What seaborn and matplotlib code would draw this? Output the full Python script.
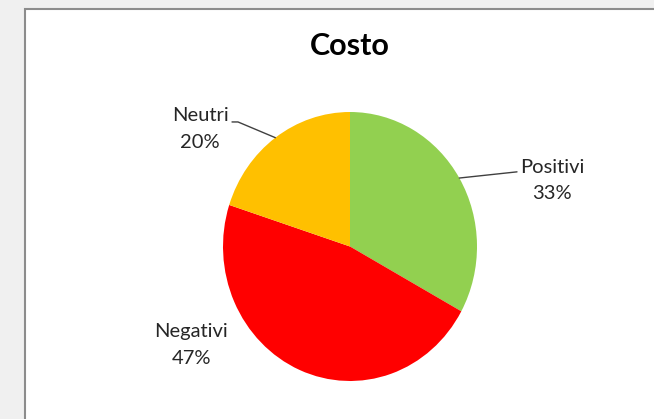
import numpy as np
import matplotlib
matplotlib.use("Agg")
import matplotlib.pyplot as plt
import seaborn as sns
from matplotlib.patches import Rectangle

# data
labels = ["Positivi", "Negativi", "Neutri"]
shares = [33, 47, 20]
colors = ["#92D050", "#FF0000", "#FFC000"]
title = "Costo"

sns.set_theme(style="white")
plt.rcParams['font.family'] = ['Lato', 'DejaVu Sans']

W, H = 654, 419
fig = plt.figure(figsize=(W / 100, H / 100), dpi=100)
fig.patch.set_facecolor("#F0F0F0")

# white chart area with grey frame (runs off the right / bottom edge)
fig.patches.append(Rectangle((24.5 / W, -0.05), 1.0, 1 - 9.5 / H + 0.05,
                             transform=fig.transFigure, facecolor="white",
                             edgecolor="#8C8C8C", linewidth=1.5, zorder=-10))

# pie area: centre ~ (350, 246.5) px, radii 127 x 134.5 px
ax = fig.add_axes([223 / W, (H - 381) / H, 254 / W, 269 / H])
ax.set_zorder(1)
wedges, _ = ax.pie(shares, colors=colors, startangle=90, counterclock=False,
                   radius=1.0, wedgeprops=dict(linewidth=0))
ax.set_aspect("auto")
ax.set_xlim(-1, 1)
ax.set_ylim(-1, 1)
ax.axis("off")

# label positions (data coords of the pie axes)
label_pos = {"Positivi": (1.59, 0.49), "Negativi": (-1.25, -0.73), "Neutri": (-1.18, 0.875)}
line_ends = {"Positivi": [(1.315, 0.555)], "Neutri": [(-0.882, 0.926), (-0.929, 0.926)]}

for w, lab, pct in zip(wedges, labels, shares):
    tx, ty = label_pos[lab]
    ax.text(tx, ty, f"{lab}\n{pct}%", ha="center", va="center", fontsize=14.5,
            color="#262626", linespacing=1.7, clip_on=False)
    if lab in line_ends:
        mid = np.deg2rad((w.theta1 + w.theta2) / 2)
        pts = [(np.cos(mid), np.sin(mid))] + line_ends[lab]
        xs, ys = zip(*pts)
        ax.plot(xs, ys, color="#404040", linewidth=1.0, clip_on=False)

fig.text(350 / W, 1 - 46 / H, title, ha="center", va="center",
         fontsize=22, fontweight="bold", color="black")

fig.savefig("out.png", dpi=100, facecolor=fig.get_facecolor())
